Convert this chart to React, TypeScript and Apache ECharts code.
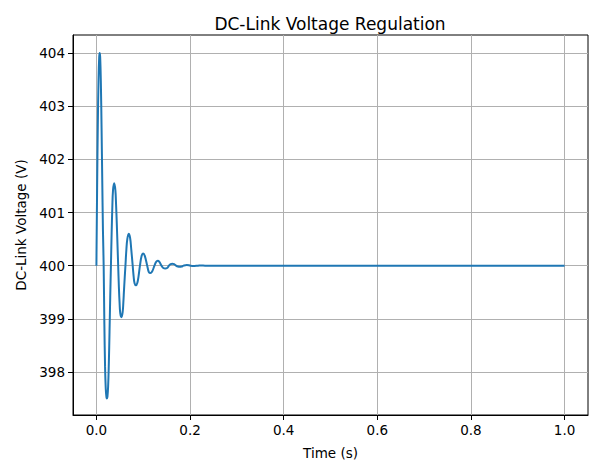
import React, { useEffect, useRef } from "react";
import * as echarts from "echarts";

// Time (s) and DC-link voltage (V)
const timeS: number[] = [
  0, 0.0015, 0.003, 0.0045, 0.006, 0.007, 0.008, 0.0095, 0.011, 0.0125, 0.014,
  0.0155, 0.017, 0.0185, 0.02, 0.0215, 0.0225, 0.0235, 0.025, 0.0265, 0.028,
  0.0295, 0.031, 0.0325, 0.034, 0.0355, 0.038, 0.0405, 0.042, 0.0435, 0.045,
  0.0465, 0.048, 0.0495, 0.051, 0.0535, 0.056, 0.0575, 0.059, 0.0605, 0.062,
  0.064, 0.066, 0.069, 0.072, 0.0745, 0.0775, 0.0795, 0.0815, 0.0845, 0.0875,
  0.09, 0.093, 0.0965, 0.1, 0.1035, 0.1085, 0.112, 0.1155, 0.119, 0.124,
  0.1275, 0.131, 0.1345, 0.139, 0.143, 0.147, 0.151, 0.155, 0.1585, 0.162,
  0.166, 0.17, 0.174, 0.178, 0.182, 0.186, 0.193, 0.201, 0.209, 0.217, 0.224,
  0.232, 0.25, 1.0,
];
const voltageV: number[] = [
  400, 401.45, 402.65, 403.5, 403.93, 404.0, 403.93, 403.45, 402.6, 401.6,
  400.65, 400, 398.9, 398.1, 397.68, 397.52, 397.5, 397.53, 397.72, 398.15,
  398.75, 399.4, 400, 400.6, 401.1, 401.42, 401.55, 401.42, 401.15, 400.8,
  400.4, 400, 399.6, 399.3, 399.1, 399.03, 399.12, 399.3, 399.55, 399.78, 400,
  400.3, 400.5, 400.6, 400.52, 400.3, 400, 399.8, 399.67, 399.63, 399.68,
  399.8, 400, 400.18, 400.23, 400.18, 400, 399.88, 399.86, 399.89, 400, 400.07,
  400.09, 400.07, 400, 399.955, 399.945, 399.955, 400, 400.03, 400.035, 400.03,
  400, 399.983, 399.98, 399.983, 400, 400.013, 400, 399.995, 400, 400.004, 400,
  400, 400,
];
const xTicks: number[] = [0, 0.2, 0.4, 0.6, 0.8, 1.0];
const yTicks: number[] = [398, 399, 400, 401, 402, 403, 404];

const FONT = "DejaVu Sans";

export default function App() {
  const ref = useRef<HTMLDivElement>(null);
  useEffect(() => {
    document.body.style.margin = "0";
    document.body.style.overflow = "hidden";
    if (!ref.current) return;
    const chart = echarts.init(ref.current, undefined, { renderer: "svg" });
    const data = timeS.map((t, i) => [t, voltageV[i]]);
    chart.setOption({
      animation: false,
      backgroundColor: "#ffffff",
      textStyle: { fontFamily: FONT },
      title: {
        text: "DC-Link Voltage Regulation",
        left: 325,
        textAlign: "center",
        top: 10,
        textStyle: { fontFamily: FONT, fontSize: 17, fontWeight: "normal", color: "#000" },
      },
      grid: {
        left: 73,
        right: 2,
        top: 35,
        bottom: 46,
        show: true,
        borderColor: "#000",
        borderWidth: 1,
        backgroundColor: "transparent",
      },
      xAxis: {
        type: "value",
        min: -0.05,
        max: 1.05,
        name: "Time (s)",
        nameLocation: "middle",
        nameGap: 31,
        nameTextStyle: { fontFamily: FONT, fontSize: 13.5, color: "#000" },
        axisLine: { show: true, onZero: false, lineStyle: { color: "#000", width: 1 } },
        axisTick: { show: true, length: 5, lineStyle: { color: "#000" }, customValues: xTicks },
        axisLabel: {
          customValues: xTicks,
          formatter: (v: number) => v.toFixed(1),
          fontFamily: FONT,
          fontSize: 13.5,
          color: "#000",
          margin: 8,
        },
        splitLine: { show: true, lineStyle: { color: "#b0b0b0", width: 1 } },
      },
      yAxis: {
        type: "value",
        min: 397.19,
        max: 404.34,
        name: "DC-Link Voltage (V)",
        nameLocation: "middle",
        nameGap: 44,
        nameRotate: 90,
        nameTextStyle: { fontFamily: FONT, fontSize: 13.5, color: "#000" },
        axisLine: { show: true, onZero: false, lineStyle: { color: "#000", width: 1 } },
        axisTick: { show: true, length: 5, lineStyle: { color: "#000" }, customValues: yTicks },
        axisLabel: {
          customValues: yTicks,
          formatter: (v: number) => String(Math.round(v)),
          fontFamily: FONT,
          fontSize: 13.5,
          color: "#000",
          margin: 8,
        },
        splitLine: { show: true, lineStyle: { color: "#b0b0b0", width: 1 } },
      },
      series: [
        {
          type: "line",
          data,
          showSymbol: false,
          smooth: 0.4,
          lineStyle: { color: "#1f77b4", width: 2 },
          itemStyle: { color: "#1f77b4" },
        },
      ],
    });
    return () => chart.dispose();
  }, []);
  return (
    <div
      ref={ref}
      style={{ position: "absolute", left: 0, top: 0, width: 590, height: 465 }}
    />
  );
}
